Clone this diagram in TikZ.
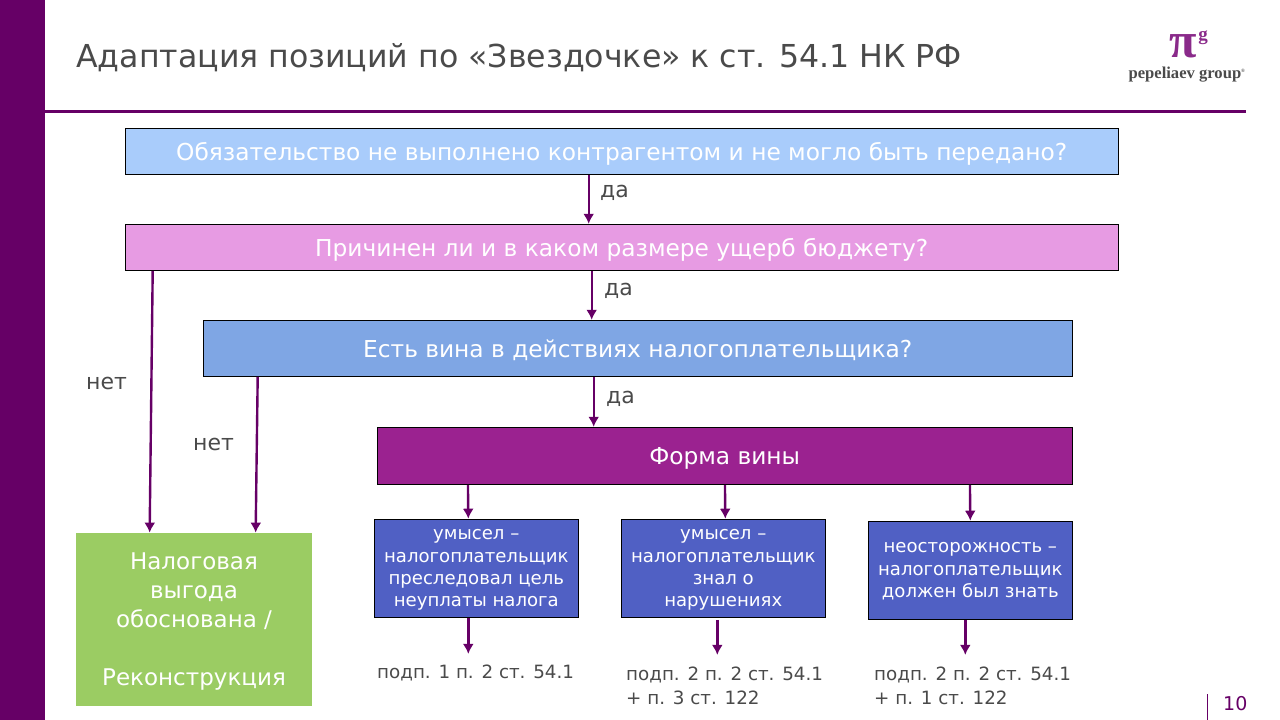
\documentclass[tikz,border=0pt]{standalone}
\usepackage{fontspec}
\usepackage{tikz}
\setmainfont{DejaVu Sans}
\newfontfamily\logofont{Liberation Serif}
\definecolor{plum}{HTML}{660066}
\definecolor{inkgray}{HTML}{4A4A4A}
\definecolor{logopurple}{HTML}{8A2A8A}
\definecolor{boxblue}{HTML}{5060C4}
\usetikzlibrary{arrows.meta}
\tikzset{
  qbox/.style={draw=black,line width=0.7pt,text=white,inner sep=0pt,align=center,text depth=0pt,font=\fontsize{23.3}{28}\selectfont},
  smallbox/.style={qbox,fill=boxblue,minimum width=204.5pt,minimum height=98.5pt,font=\fontsize{18.1}{22.4}\selectfont},
  arrow/.style={draw=plum,line width=2.4pt,-{Latex[length=10pt,width=11pt]}},
  lbl/.style={text=inkgray,inner sep=0pt,font=\fontsize{22}{26}\selectfont},
  ref/.style={lbl,anchor=north west,align=left,font=\fontsize{18.3}{23.4}\selectfont}
}

\begin{document}
\begin{tikzpicture}[x=1pt,y=-1pt]
        \useasboundingbox (0,0) rectangle (1280,720);
        \fill[plum] (0,0) rectangle (45,720);
        \draw[plum,line width=3pt] (45,111)--(1246,111);
        % title and logo
        \node[anchor=west,text=inkgray,inner sep=0pt,font=\fontsize{31.6}{36}\selectfont] (title) at (76,58) {Адаптация позиций по «Звездочке» к ст. 54.1 НК РФ};
        \node[text=logopurple,inner sep=0pt,font=\logofont\bfseries\fontsize{50}{50}\selectfont] (logopi) at (1183,46) {π};
        \node[text=logopurple,inner sep=0pt,font=\logofont\bfseries\fontsize{19}{19}\selectfont] (logog) at (1203,38) {g};
        \node[text=inkgray,inner sep=0pt,font=\logofont\bfseries\fontsize{16.6}{18}\selectfont] (logotext) at (1187,75) {pepeliaev group\textsuperscript{\tiny®}};
        % questions
        \node[qbox,minimum width=993.3pt,minimum height=46.3pt,fill={rgb,255:red,169;green,204;blue,251}] (perform) at (621.7,151.3) {Обязательство не выполнено контрагентом и не могло быть передано?};
        \node[qbox,minimum width=993.3pt,minimum height=46.3pt,fill={rgb,255:red,231;green,155;blue,227}] (damage) at (621.7,247.3) {Причинен ли и в каком размере ущерб бюджету?};
        \node[qbox,minimum width=869.3pt,minimum height=56.3pt,fill={rgb,255:red,127;green,166;blue,228}] (guilt) at (637.7,348.3) {Есть вина в действиях налогоплательщика?};
        \node[qbox,minimum width=695.3pt,minimum height=57.3pt,fill={rgb,255:red,155;green,34;blue,144}] (form) at (724.7,455.8) {Форма вины};
        % forms of guilt
        \node[smallbox] (intent) at (476.3,568.3) {умысел –\\налогоплательщик\\преследовал цель\\неуплаты налога};
        \node[smallbox] (knew) at (723.3,568.3) {умысел –\\налогоплательщик\\знал о\\нарушениях};
        \node[smallbox] (neglect) at (970.3,570.3) {неосторожность –\\налогоплательщик\\должен был знать};
        \node[qbox,minimum width=236pt,minimum height=173pt,fill={rgb,255:red,155;green,204;blue,99},draw=none,font=\fontsize{23}{29}\selectfont] (benefit) at (194,619.5) {Налоговая\\выгода\\обоснована /\\[29pt]Реконструкция};
        % references
        \node[ref] (ref1) at (377,665) {подп. 1 п. 2 ст. 54.1};
        \node[ref] (ref2) at (626,667) {подп. 2 п. 2 ст. 54.1\\+ п. 3 ст. 122};
        \node[ref] (ref3) at (874,667) {подп. 2 п. 2 ст. 54.1\\+ п. 1 ст. 122};
        % labels
        \node[lbl,anchor=west] (yes1) at (600,192.5) {да};
        \node[lbl,anchor=west] (yes2) at (604,290.5) {да};
        \node[lbl,anchor=west] (yes3) at (606,398.5) {да};
        \node[lbl,anchor=west] (no1) at (86,383) {нет};
        \node[lbl,anchor=west] (no2) at (193,444) {нет};
        % arrows
        \draw[arrow] (perform.south -| damage.north) ++(-33,0) -- ([xshift=-33pt]damage.north);
        \draw[arrow] ([xshift=-30pt]damage.south) -- ([xshift=-46pt]guilt.north);
        \draw[arrow] ([xshift=-44pt]guilt.south) -- ([xshift=-131pt]form.north);
        \draw[arrow] ([xshift=28pt]damage.south west) -- ([xshift=74pt]benefit.north west);
        \draw[arrow] ([xshift=55pt]guilt.south west) -- ([xshift=180pt]benefit.north west);
        \draw[arrow] ([xshift=91.25pt]form.south west) -- ([xshift=-8pt]intent.north);
        \draw[arrow] ([xshift=348.25pt]form.south west) -- ([xshift=2pt]knew.north);
        \draw[arrow] ([xshift=593.25pt]form.south west) -- ([xshift=0pt]neglect.north);
        \draw[arrow] ([xshift=-8pt]intent.south) -- ([xshift=-8pt,yshift=-36pt]intent.south);
        \draw[arrow] ([xshift=-6pt,yshift=-2pt]knew.south) -- ([xshift=-6pt,yshift=-37pt]knew.south);
        \draw[arrow] ([xshift=-5pt]neglect.south) -- ([xshift=-5pt,yshift=-35pt]neglect.south);
        % page number
        \draw[plum,line width=0.8pt] (1207,694)--(1207,720);
        \node[anchor=west,text=plum,inner sep=0pt,font=\fontsize{19}{22}\selectfont] (pagenum) at (1223,704) {10};
\end{tikzpicture}
\end{document}
